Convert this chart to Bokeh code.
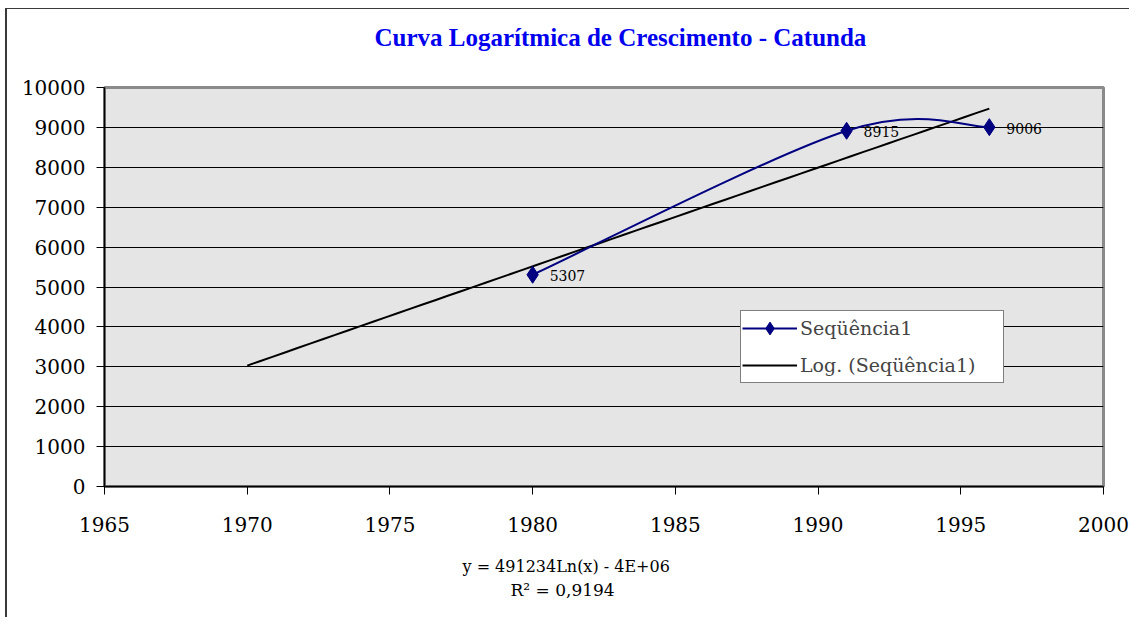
import numpy as np
from bokeh.plotting import figure
from bokeh.models import Range1d, FixedTicker, Title, Legend, LegendItem, ColumnDataSource
from bokeh.embed import file_html
from bokeh.resources import INLINE
from bokeh.core.properties import value

# ---- data ----
title_text = "Curva  Logarítmica de Crescimento - Catunda"
years = [1980, 1991, 1996]
population = [5307, 8915, 9006]
point_labels = ["5307", "8915", "9006"]
trend_start = 1970
x_ticks = [1965, 1970, 1975, 1980, 1985, 1990, 1995, 2000]
y_ticks = [0, 1000, 2000, 3000, 4000, 5000, 6000, 7000, 8000, 9000, 10000]
series_name = "Seqüência1"
trend_name = "Log. (Seqüência1)"
equation_text = "y = 491234Ln(x) - 4E+06"
r2_text = "R² = 0,9194"

# ---- smoothed series (Catmull-Rom style Bezier through the points) ----
xa = np.array(years, dtype=float)
ya = np.array(population, dtype=float)
n = len(xa)
x0, y0, x1, y1, cx0, cy0, cx1, cy1 = [], [], [], [], [], [], [], []
for i in range(n - 1):
    p0 = (xa[max(i - 1, 0)], ya[max(i - 1, 0)])
    p1 = (xa[i], ya[i])
    p2 = (xa[i + 1], ya[i + 1])
    p3 = (xa[min(i + 2, n - 1)], ya[min(i + 2, n - 1)])
    x0.append(p1[0]); y0.append(p1[1]); x1.append(p2[0]); y1.append(p2[1])
    cx0.append(p1[0] + (p2[0] - p0[0]) / 6); cy0.append(p1[1] + (p2[1] - p0[1]) / 6)
    cx1.append(p2[0] - (p3[0] - p1[0]) / 6); cy1.append(p2[1] - (p3[1] - p1[1]) / 6)

# ---- logarithmic trendline fitted to the series ----
a, b = np.polyfit(np.log(xa), ya, 1)
tx = np.linspace(trend_start, years[-1], 60)
ty = a * np.log(tx) + b

p = figure(width=1124, height=609, x_range=Range1d(1965, 2000), y_range=Range1d(0, 10000),
           output_backend="svg", toolbar_location=None,
           min_border_left=97, min_border_right=28, min_border_top=78, min_border_bottom=132)
p.styles = {"border-left": "2px solid #3a3a3a", "border-top": "1px solid #3a3a3a",
            "margin-left": "5px", "margin-top": "8px"}
p.background_fill_color = "#e5e5e5"
p.border_fill_color = "white"
p.outline_line_color = "#8a8a8a"
p.outline_line_width = 3
p.title.text = ""

# spacer between frame and title, then the title itself
p.add_layout(Title(text=" ", standoff=24, text_font_size="10px"), "above")
p.add_layout(Title(text=title_text, align="left", offset=270, standoff=0, text_font="Liberation Serif",
                   text_font_style="bold", text_font_size="25px", text_color="#0000ee"), "above")

p.xgrid.visible = False
p.ygrid.ticker = FixedTicker(ticks=y_ticks)
p.ygrid.grid_line_color = "black"
p.ygrid.grid_line_width = 1

for ax in (p.xaxis[0], p.yaxis[0]):
    ax.axis_line_color = "black"
    ax.axis_line_width = 1.5
    ax.major_tick_line_color = "black"
    ax.major_tick_out = 8
    ax.major_tick_in = 0
    ax.minor_tick_out = 0
    ax.minor_tick_in = 0
    ax.major_label_text_font = "DejaVu Serif"
    ax.major_label_text_font_size = "20px"
    ax.major_label_text_color = "black"
p.xaxis.ticker = FixedTicker(ticks=x_ticks)
p.yaxis.ticker = FixedTicker(ticks=y_ticks)
p.xaxis.major_label_standoff = 22
p.yaxis.major_label_standoff = 11

trend_r = p.line(tx, ty, line_color="black", line_width=2)
curve_r = p.bezier(x0=x0, y0=y0, x1=x1, y1=y1, cx0=cx0, cy0=cy0, cx1=cx1, cy1=cy1,
                   line_color="#000080", line_width=2)
pts_r = p.scatter(years, population, marker="diamond", size=17, color="#000080")

src = ColumnDataSource(dict(x=years, y=population, t=point_labels))
p.text("x", "y", text="t", source=src, x_offset=17, y_offset=1, text_baseline="middle",
       text_font=value("DejaVu Serif"), text_font_size="14px", text_color="black")

legend = Legend(items=[LegendItem(label=series_name, renderers=[curve_r, pts_r]),
                       LegendItem(label=trend_name, renderers=[trend_r])],
                location=(636, 103))
legend.border_line_color = "black"
legend.border_line_width = 1
legend.background_fill_color = "white"
legend.background_fill_alpha = 1
legend.label_text_font = "DejaVu Serif"
legend.label_text_font_size = "19px"
legend.glyph_width = 55
legend.glyph_height = 32
legend.label_height = 32
legend.label_width = 202
legend.spacing = 5
legend.padding = 1
legend.margin = 0
legend.label_standoff = 3
p.add_layout(legend)

# spacer between axis and equation lines
p.add_layout(Title(text=" ", standoff=7, text_font_size="10px"), "below")
p.add_layout(Title(text=equation_text, align="left", offset=358, standoff=0,
                   text_font="DejaVu Serif", text_font_size="16px", text_font_style="normal",
                   text_color="black"), "below")
p.add_layout(Title(text=r2_text, align="left", offset=406, standoff=4,
                   text_font="DejaVu Serif", text_font_size="17px", text_font_style="normal",
                   text_color="black"), "below")

open("out.html", "w").write(file_html(p, INLINE))
